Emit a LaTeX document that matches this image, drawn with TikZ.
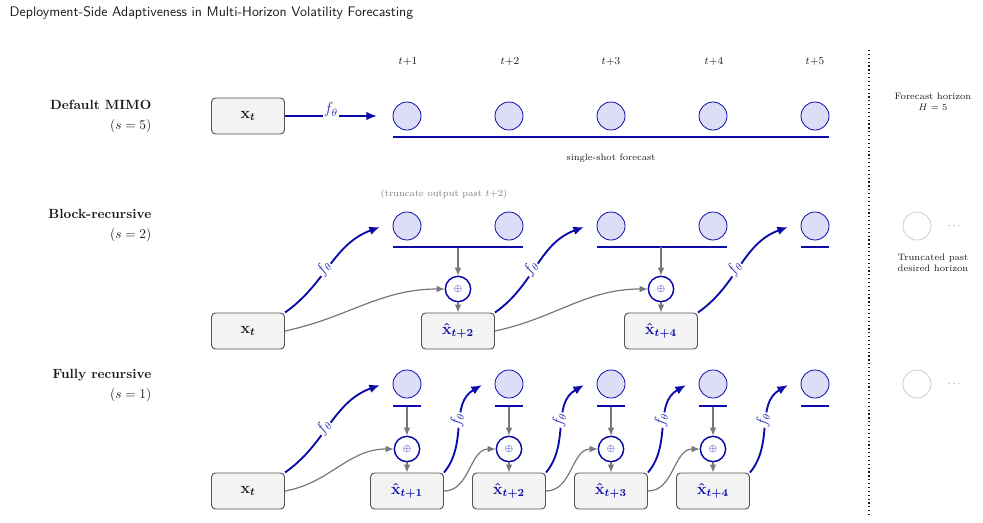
\documentclass[tikz,border=0pt]{standalone}
\usepackage{amsmath}
\usetikzlibrary{arrows.meta,positioning,calc}
\definecolor{vfblue}{HTML}{0B0BAA}
\definecolor{vfbluefill}{HTML}{DDDDF7}
\definecolor{vfboxfill}{HTML}{F3F3F3}
\definecolor{vfink}{HTML}{1A1A1A}
\definecolor{vfgrey}{HTML}{777777}
\definecolor{vfmuted}{HTML}{808080}
\tikzset{
  vf/.style={font=\small, text=vfink},
  vfbox/.style={draw=vfink!75, fill=vfboxfill, rounded corners=3pt, line width=0.7pt,
    minimum width=54.75pt, minimum height=27pt, inner sep=0pt, font=\large},
  vfout/.style={circle, draw=vfblue, fill=vfbluefill, line width=0.6pt, minimum size=21pt, inner sep=0pt},
  vfgone/.style={circle, draw=black!20, line width=0.6pt, minimum size=21pt, inner sep=0pt},
  vfsum/.style={circle, draw=vfblue, fill=white, line width=1.1pt, minimum size=19pt, inner sep=0pt,
    font=\scriptsize, text=vfblue},
  vfbar/.style={fill=vfblue, minimum height=1.5pt, inner sep=0pt},
  vfarr/.style={-{Latex[length=8pt,width=6.5pt]}, line width=1.4pt, draw=vfblue},
  vfgray/.style={-{Latex[length=6pt,width=5pt]}, line width=0.9pt, draw=vfgrey},
  vflbl/.style={font=\large, text=vfblue!85, fill=white, inner sep=0.5pt},
  vfrow/.style={anchor=east, align=right, font=\normalsize, text=vfink},
  vfnote/.style={font=\scriptsize, text=vfink, align=center},
  vfstep/.style={font=\footnotesize, text=vfink},
}
\newcommand{\vfx}[1]{\textcolor{vfblue}{\boldmath$\hat{\mathbf{x}}_{#1}$}}
\newcommand{\vfin}{{\boldmath$\mathbf{x}_t$}}

\begin{document}
\begin{tikzpicture}[vf, x=0.75pt, y=0.75pt]
  \useasboundingbox (0,0) rectangle (983,-522);
  \node[anchor=west, font=\sffamily\fontsize{10.4}{12}\selectfont, text=vfink] (title) at (5,-13)
    {Deployment-Side Adaptiveness in Multi-Horizon Volatility Forecasting};

  % horizon steps
  \node[vfstep] (k1) at (408,-62) {$t{+}1$};
  \node[vfstep] (k2) at (510,-62) {$t{+}2$};
  \node[vfstep] (k3) at (611,-62) {$t{+}3$};
  \node[vfstep] (k4) at (714,-62) {$t{+}4$};
  \node[vfstep] (k5) at (815,-62) {$t{+}5$};

  % row labels
  \node[vfrow] (r1) at (156,-116) {\textbf{Default MIMO}\\[3pt]$(s=5)$};
  \node[vfrow] (r2) at (156,-226) {\textbf{Block-recursive}\\[3pt]$(s=2)$};
  \node[vfrow] (r3) at (156,-386) {\textbf{Fully recursive}\\[3pt]$(s=1)$};

  % default MIMO
  \node[vfbox] (m-x) at (248,-116) {\vfin};
  \coordinate (m-in) at (377,-116);
  \node[vfout] (m1) at (407,-116) {};
  \node[vfout] (m2) at (509,-116) {};
  \node[vfout] (m3) at (611,-116) {};
  \node[vfout] (m4) at (713,-116) {};
  \node[vfout] (m5) at (815,-116) {};
  \node[vfbar, minimum width=327pt] (m-bar) at (611,-137) {};
  \node[vfnote] (m-note) at (611,-158) {single-shot forecast};
  \draw[vfarr] (m-x) -- node[vflbl, above=-2pt] {$f_\theta$} (m-in);

  % block-recursive
  \node[font=\scriptsize, text=vfmuted] (b-note) at (444,-194) {(truncate output past $t{+}2$)};
  \node[vfbox] (b-x) at (248,-331) {\vfin};
  \node[vfbox] (b-h2) at (458,-331) {\vfx{t+2}};
  \node[vfbox] (b-h4) at (661,-331) {\vfx{t+4}};
  \coordinate (b-in1) at (380,-227);
  \coordinate (b-in3) at (584,-227);
  \coordinate (b-in5) at (788,-227);
  \node[vfout] (b1) at (407,-226) {};
  \node[vfout] (b2) at (509,-226) {};
  \node[vfout] (b3) at (611,-226) {};
  \node[vfout] (b4) at (713,-226) {};
  \node[vfout] (b5) at (815,-226) {};
  \node[vfbar, minimum width=97.5pt] (b-bar1) at (458,-247) {};
  \node[vfbar, minimum width=97.5pt] (b-bar2) at (662,-247) {};
  \node[vfbar, minimum width=21pt] (b-bar3) at (815,-247) {};
  \node[vfsum] (b-s1) at (458,-289) {$\oplus$};
  \node[vfsum] (b-s2) at (661,-289) {$\oplus$};
  \draw[vfgray] (b-bar1) -- (b-s1);
  \draw[vfgray] (b-bar2.center -| b-s2) -- (b-s2);
  \draw[vfgray] (b-s1) -- (b-h2);
  \draw[vfgray] (b-s2) -- (b-h4);
  \draw[vfgray] (b-x.east) to[out=12, in=180] (b-s1.west);
  \draw[vfgray] (b-h2.east) to[out=12, in=180] (b-s2.west);
  \draw[vfarr] (b-x.north east) to[out=35, in=200] node[vflbl, sloped, pos=0.45, above=-4pt] {$f_\theta$} (b-in1);
  \draw[vfarr] (b-h2.north east) to[out=35, in=200] node[vflbl, sloped, pos=0.45, above=-4pt] {$f_\theta$} (b-in3);
  \draw[vfarr] (b-h4.north east) to[out=35, in=200] node[vflbl, sloped, pos=0.45, above=-4pt] {$f_\theta$} (b-in5);

  % fully recursive
  \node[vfbox] (f-x) at (248,-491) {\vfin};
  \node[vfbox] (f-h1) at (407,-491) {\vfx{t+1}};
  \node[vfbox] (f-h2) at (509,-491) {\vfx{t+2}};
  \node[vfbox] (f-h3) at (611,-491) {\vfx{t+3}};
  \node[vfbox] (f-h4) at (713,-491) {\vfx{t+4}};
  \coordinate (f-in1) at (380,-385);
  \coordinate (f-in2) at (482,-385);
  \coordinate (f-in3) at (584,-385);
  \coordinate (f-in4) at (686,-385);
  \coordinate (f-in5) at (788,-385);
  \node[vfout] (f1) at (407,-384) {};
  \node[vfout] (f2) at (509,-384) {};
  \node[vfout] (f3) at (611,-384) {};
  \node[vfout] (f4) at (713,-384) {};
  \node[vfout] (f5) at (815,-384) {};
  \node[vfbar, minimum width=21pt] (f-bar1) at (407,-406) {};
  \node[vfbar, minimum width=21pt] (f-bar2) at (509,-406) {};
  \node[vfbar, minimum width=21pt] (f-bar3) at (611,-406) {};
  \node[vfbar, minimum width=21pt] (f-bar4) at (713,-406) {};
  \node[vfbar, minimum width=21pt] (f-bar5) at (815,-406) {};
  \node[vfsum] (f-s1) at (407,-449) {$\oplus$};
  \node[vfsum] (f-s2) at (509,-449) {$\oplus$};
  \node[vfsum] (f-s3) at (611,-449) {$\oplus$};
  \node[vfsum] (f-s4) at (713,-449) {$\oplus$};
  \draw[vfgray] (f-bar1) -- (f-s1);
  \draw[vfgray] (f-bar2) -- (f-s2);
  \draw[vfgray] (f-bar3) -- (f-s3);
  \draw[vfgray] (f-bar4) -- (f-s4);
  \draw[vfgray] (f-s1) -- (f-h1);
  \draw[vfgray] (f-s2) -- (f-h2);
  \draw[vfgray] (f-s3) -- (f-h3);
  \draw[vfgray] (f-s4) -- (f-h4);
  \draw[vfgray] (f-x.east) to[out=10, in=180] (f-s1.west);
  \draw[vfgray] (f-h1.east) to[out=0, in=180] (f-s2.west);
  \draw[vfgray] (f-h2.east) to[out=0, in=180] (f-s3.west);
  \draw[vfgray] (f-h3.east) to[out=0, in=180] (f-s4.west);
  \draw[vfarr] (f-x.north east) to[out=35, in=200] node[vflbl, sloped, pos=0.45, above=-4pt] {$f_\theta$} (f-in1);
  \draw[vfarr] (f-h1.north east) to[out=50, in=210] node[vflbl, sloped, pos=0.55, above=-4pt] {$f_\theta$} (f-in2);
  \draw[vfarr] (f-h2.north east) to[out=50, in=210] node[vflbl, sloped, pos=0.55, above=-4pt] {$f_\theta$} (f-in3);
  \draw[vfarr] (f-h3.north east) to[out=50, in=210] node[vflbl, sloped, pos=0.55, above=-4pt] {$f_\theta$} (f-in4);
  \draw[vfarr] (f-h4.north east) to[out=50, in=210] node[vflbl, sloped, pos=0.55, above=-4pt] {$f_\theta$} (f-in5);

  % horizon side notes
  \coordinate (sep-top) at (869,-50);
  \coordinate (sep-bot) at (869,-515);
  \draw[dotted, line width=0.9pt, vfink] (sep-top) -- (sep-bot);
  \node[vfnote] (hz) at (933,-102) {Forecast horizon\\$H=5$};
  \node[vfgone] (b-cut) at (917,-226) {};
  \node[font=\scriptsize, text=vfmuted] (b-dots) at (955,-226) {$\cdots$};
  \node[vfnote] (cut) at (933,-263) {Truncated past\\desired horizon};
  \node[vfgone] (f-cut) at (917,-384) {};
  \node[font=\scriptsize, text=vfmuted] (f-dots) at (955,-384) {$\cdots$};
\end{tikzpicture}
\end{document}
